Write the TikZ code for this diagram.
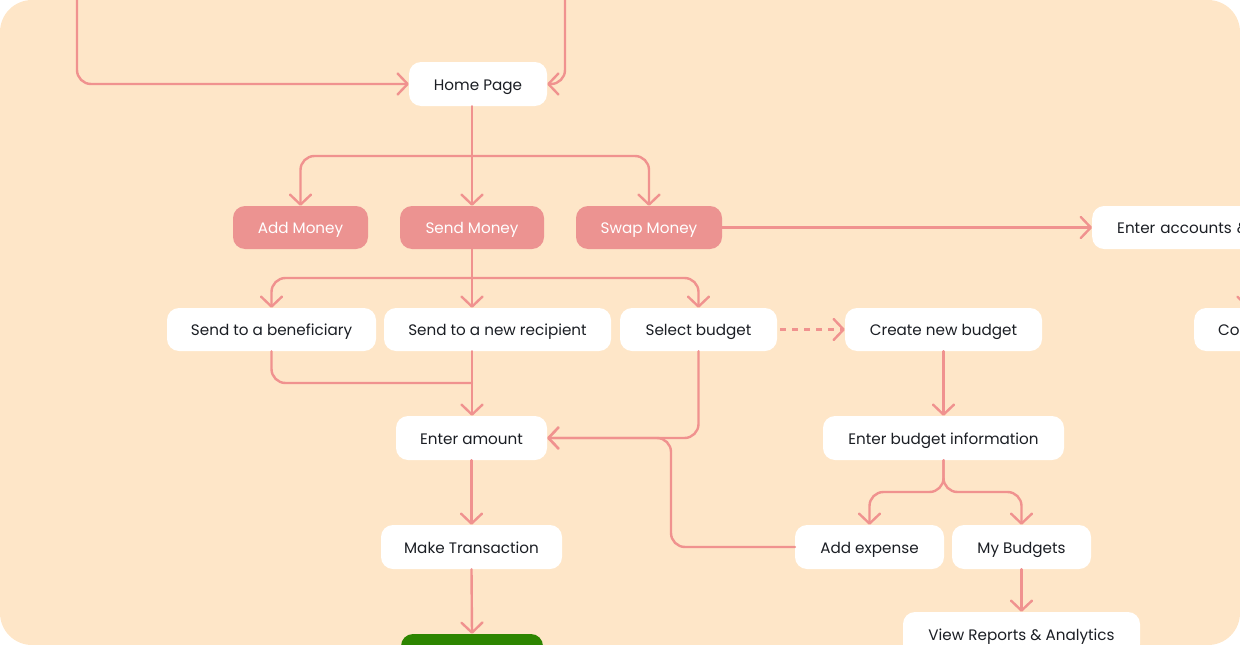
\documentclass[tikz,border=0pt]{standalone}
\usepackage{fontspec}
\setmainfont{Poppins}
\usetikzlibrary{arrows.meta}
\definecolor{bgpeach}{RGB}{254,230,200}
\definecolor{conncol}{RGB}{240,146,143}
\definecolor{salmon}{RGB}{236,147,145}
\definecolor{txtdark}{RGB}{27,30,36}
\definecolor{gogreen}{RGB}{45,133,0}
\tikzset{
  box/.style={fill=white, rounded corners=12pt, minimum height=44pt, inner sep=0pt, text=txtdark,
    text height=13.5pt, text depth=1pt, font=\fontsize{15.2}{18}\selectfont},
  action/.style={box, fill=salmon, text=white},
  conn/.style={draw=conncol, line width=2.4pt, rounded corners=14pt, line cap=round,
    -{Straight Barb[length=10pt,width=21pt,round]}},
  plain/.style={draw=conncol, line width=2.4pt, rounded corners=14pt, line cap=round},
}
\begin{document}
\begin{tikzpicture}[x=1pt,y=-1pt]
\useasboundingbox (0,0) rectangle (1240,645);
\clip[rounded corners=32pt] (0,0) rectangle (1240,645);
\fill[bgpeach] (0,0) rectangle (1240,645);

% nodes
\node[box, minimum width=138pt] (home) at (478,84) {Home Page};
\node[action, minimum width=135pt, minimum height=43pt] (addm) at (300.5,227.5) {Add Money};
\node[action, minimum width=144pt, minimum height=43pt] (sendm) at (472,227.5) {Send Money};
\node[action, minimum width=146pt, minimum height=43pt] (swapm) at (649,227.5) {Swap Money};
\node[box, anchor=west, minimum height=43pt, text width=200pt, align=left, inner xsep=25pt] (acc) at (1092,227.5) {Enter accounts \&};
\node[box, anchor=west, minimum height=43pt, text width=100pt, align=left, inner xsep=24pt] (co) at (1194,329.5) {Co};
\node[box, minimum width=209pt, minimum height=43pt] (benef) at (271.5,329.5) {Send to a beneficiary};
\node[box, minimum width=227pt, minimum height=43pt] (newrec) at (497.5,329.5) {Send to a new recipient};
\node[box, minimum width=157pt, minimum height=43pt] (selb) at (698.5,329.5) {Select budget};
\node[box, minimum width=197pt, minimum height=43pt] (create) at (943.5,329.5) {Create new budget};
\node[box, minimum width=151pt] (amount) at (471.5,438) {Enter amount};
\node[box, minimum width=241pt] (binfo) at (943.5,438) {Enter budget information};
\node[box, minimum width=181pt] (maketx) at (471.5,547) {Make Transaction};
\node[box, minimum width=149pt] (addexp) at (869.5,547) {Add expense};
\node[box, minimum width=139pt] (mybud) at (1021.5,547) {My Budgets};
\node[box, minimum width=237pt] (reports) at (1021.5,634) {View Reports \& Analytics};
\node[box, fill=gogreen, minimum width=142pt] (green) at (472,656) {};

% helper coordinates
\coordinate (topL) at (77,-10);
\coordinate (topR) at (565,-10);
\coordinate (b1) at (472,156);
\coordinate (b2) at (472,278);
\coordinate (b3) at (472,383);
\coordinate (b4) at (943.5,492);
\coordinate (m1) at (671,438);
\coordinate (cotop) at (1248,308);

% connectors
\draw[conn] (topL) |- (home.west);
\draw[conn] (topR) |- (home.east);
\draw[conn] (home.south -| b1) -- (sendm.north -| b1);
\draw[conn] (b1) -| (addm.north);
\draw[conn] (b1) -| (swapm.north);
\draw[conn] (swapm.east) -- (acc.west);
\draw[conn] (acc.south -| cotop) -- (cotop);
\draw[conn] (sendm.south -| b2) -- (newrec.north -| b2);
\draw[conn] (b2) -| (benef.north);
\draw[conn] (b2) -| (selb.north);
\draw[draw=conncol, line width=2.4pt, dash pattern=on 6pt off 6pt,
  -{Straight Barb[length=10pt,width=21pt,round]}] ([xshift=3pt]selb.east) -- (create.west);
\draw[plain] (benef.south) |- (b3);
\draw[conn] (newrec.south -| b3) -- (amount.north -| b3);
\draw[conn] (selb.south) |- (amount.east);
\draw[conn] (addexp.west) -| (m1) -- (amount.east);
\draw[conn] (create.south) -- (binfo.north);
\draw[conn] (binfo.south) |- (b4) -| (addexp.north);
\draw[conn] (binfo.south) |- (b4) -| (mybud.north);
\draw[conn] (amount.south) -- (maketx.north);
\draw[conn] (maketx.south) -- (green.north);
\draw[conn] (mybud.south) -- (reports.north);
\end{tikzpicture}
\end{document}
